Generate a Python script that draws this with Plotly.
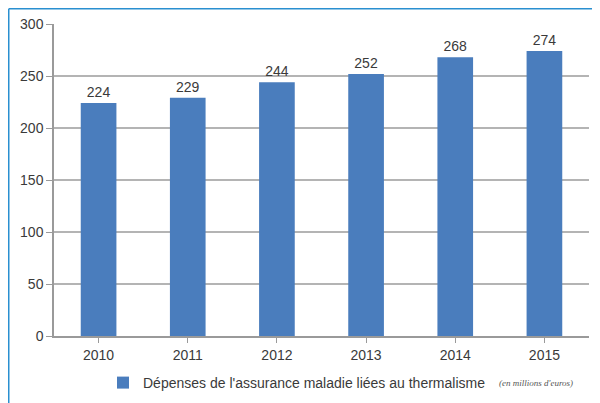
import plotly.graph_objects as go

years = ["2010", "2011", "2012", "2013", "2014", "2015"]
values = [224, 229, 244, 252, 268, 274]
y_ticks = [0, 50, 100, 150, 200, 250, 300]
series_name = "Dépenses de l'assurance maladie liées au thermalisme"
unit_note = "(en millions d'euros)"

# page body has an 8px margin, so the figure is drawn offset by (8, 8)
W, H = 592, 395
L, R, T, B = 46, 11, 16, 67
pw, ph = W - L - R, H - T - B

fig = go.Figure()
fig.add_trace(go.Bar(
    x=years, y=values, name=series_name,
    marker=dict(color="#4a7dbd", line=dict(width=0)),
    text=[str(v) for v in values], textposition="outside",
    textfont=dict(size=14, color="#3a3a3a", family="Liberation Sans"),
    cliponaxis=False,
))

fig.update_layout(
    width=W, height=H,
    margin=dict(l=L, r=R, t=T, b=B, autoexpand=False),
    paper_bgcolor="white", plot_bgcolor="white",
    bargap=0.6,
    font=dict(family="Liberation Sans", size=14, color="#3a3a3a"),
    showlegend=True,
    legend=dict(orientation="h", x=(95 - L) / pw, xanchor="left", y=-47 / ph, yanchor="middle",
                font=dict(size=14, color="#3a3a3a"), itemwidth=30, bgcolor="rgba(0,0,0,0)"),
    xaxis=dict(showline=True, linecolor="#9a9a9a", linewidth=1.5, ticks="outside",
               ticklen=5, tickcolor="#9a9a9a", tickfont=dict(size=14, color="#3a3a3a"),
               showgrid=False, automargin=False),
    yaxis=dict(range=[0, 300], tickvals=y_ticks, showline=True, linecolor="#9a9a9a",
               linewidth=1.5, ticks="outside", ticklen=6, tickcolor="#9a9a9a",
               gridcolor="#b4b4b4", gridwidth=1.5, zeroline=False, automargin=False,
               tickfont=dict(size=14, color="#3a3a3a")),
    shapes=[
        dict(type="line", xref="paper", yref="paper",
             x0=(0.75 - L) / pw, x1=(0.75 - L) / pw, y0=-(H - T - ph + 5) / ph, y1=1 + (T - 0.75) / ph,
             line=dict(color="#2a8fd0", width=1.5)),
        dict(type="line", xref="paper", yref="paper",
             x0=(0.75 - L) / pw, x1=(W + 5 - L) / pw, y0=1 + (T - 0.75) / ph, y1=1 + (T - 0.75) / ph,
             line=dict(color="#2a8fd0", width=1.5)),
    ],
    annotations=[
        dict(text=unit_note, xref="paper", yref="paper", x=(489 - L) / pw, y=-47 / ph,
             xanchor="left", yanchor="middle", showarrow=False,
             font=dict(size=9, color="#555555", family="Liberation Serif", style="italic")),
    ],
)

fig.write_html("out.html")
